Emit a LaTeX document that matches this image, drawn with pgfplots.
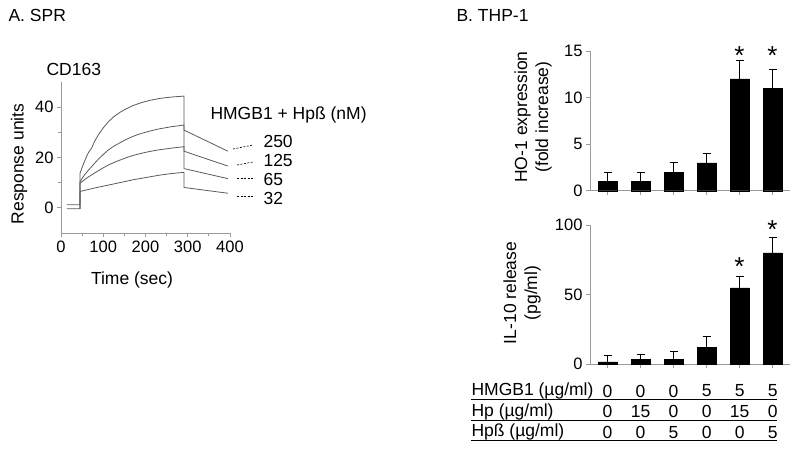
\documentclass[border=0pt]{standalone}
\usepackage{fontspec}
\setmainfont{Liberation Sans}
\usepackage{pgfplots}
\pgfplotsset{compat=1.18}

\definecolor{axgray}{HTML}{9A9A9A}
\definecolor{curve}{HTML}{5A5A5A}

\pgfplotsset{
  panel/.style={
    scale only axis,
    anchor=south west,
    axis lines*=left,
    axis line style={axgray, line width=0.8pt},
    tick style={axgray, line width=0.8pt},
    tick align=outside,
    /pgf/number format/assume math mode=true,
    tick label style={font=\fontsize{16.5}{19}\selectfont},
    clip=false,
  },
  barpanel/.style={
    panel,
    width=200pt,
    xmin=0.47, xmax=6.53,
    ymin=0,
    xtick={1,...,6},
    xticklabels={},
    major tick length=4pt,
    ybar, bar width=18.5pt,
  },
  errs/.style={
    fill=black, draw=black,
    error bars/.cd, y dir=plus, y explicit,
    error mark options={rotate=90, mark size=4pt, black, line width=0.9pt},
    error bar style={black, line width=0.9pt},
  },
}

\begin{document}
\begin{tikzpicture}[font=\fontsize{17.5}{21}\selectfont, x=1pt, y=1pt]
\path[use as bounding box] (0,0) rectangle (800,451);

% ---------- A. SPR ----------
\begin{axis}[panel, at={(61pt,218pt)}, width=169pt, height=151pt,
  xmin=0, xmax=400, ymin=-10, ymax=50,
  xtick={0,100,200,300,400}, ytick={0,20,40},
  minor x tick num=1, minor y tick num=1,
  major tick length=4pt, minor tick length=3pt]
  \addplot[curve, line width=0.8pt] coordinates {
    (14,1.2) (45,1.2) (45,13.7) (50,16.1) (55,18.2) (60,20.2) (65,22) (72.6,23.8)
    (80,26.6) (90,29.4) (100,31.8) (112,34.2) (125,36.2) (140,38) (155,39.4)
    (170,40.6) (190,41.8) (210,42.7) (235,43.5) (260,44) (291,44.4)
    (291,30.9) (395,22.5)};
  \addplot[curve, line width=0.8pt] coordinates {
    (14,-0.4) (45,-0.4) (45,10.4) (50,11.7) (55,12.9) (65,15) (72.6,16.4) (80,17.8)
    (90,19.6) (100,21.2) (112,23) (125,24.5) (140,25.9) (151,26.9) (165,28)
    (180,29) (191,29.6) (210,30.5) (230,31.3) (260,32.2) (291,32.9)
    (291,22.5) (395,16.6)};
  \addplot[curve, line width=0.8pt] coordinates {
    (45,-0.4) (45,9.8) (55,11.1) (65,12.3) (72.6,13.1) (80,13.9) (90,14.9)
    (100,15.9) (112,17) (125,18) (140,19) (151,19.7) (170,20.8) (191,21.7)
    (210,22.4) (230,23) (260,23.7) (291,24.3) (291,15.6) (395,11.6)};
  \addplot[curve, line width=0.8pt] coordinates {
    (45,-0.4) (45,6.5) (60,7.1) (80,7.9) (100,8.6) (125,9.5) (150,10.4)
    (175,11.3) (200,12) (230,12.9) (260,13.6) (291,14.1) (291,8.1) (395,5.8)};
\end{axis}

\node at (19,287) [rotate=90] {Response units};
\node at (132,171) {Time (sec)};
\node[anchor=west] at (5,436) {A. SPR};
\node[anchor=west] at (43,382) {CD163};
\node[anchor=west] at (207,336) {HMGB1 + Hpß (nM)};
\node[anchor=west] at (260,310) {250};
\node[anchor=west] at (260,291) {125};
\node[anchor=west] at (260,272) {65};
\node[anchor=west] at (260,253) {32};
\draw[black, line width=0.6pt, dash pattern=on 2pt off 1.5pt] (233,302) -- (253,306);
\draw[black, line width=0.6pt, dash pattern=on 2pt off 1.5pt] (237,286) -- (253,289);
\draw[black, line width=0.6pt, dash pattern=on 2pt off 1.5pt] (237,273) -- (253,273);
\draw[black, line width=0.6pt, dash pattern=on 2pt off 1.5pt] (237,255) -- (253,255);

% ---------- B. THP-1, HO-1 ----------
\begin{axis}[barpanel, at={(590pt,260.3pt)}, height=139.7pt,
  ymax=15, ytick={0,5,10,15}]
  \addplot[errs] coordinates {
    (1,1) +- (0,1)
    (2,1) +- (0,1)
    (3,2) +- (0,1)
    (4,3) +- (0,1)
    (5,12) +- (0,2)
    (6,11) +- (0,2)};
  \node[font=\fontsize{26}{26}\selectfont] at (axis cs:5,14.5) {*};
  \node[font=\fontsize{26}{26}\selectfont] at (axis cs:6,14.5) {*};
\end{axis}
\node[align=center, rotate=90] at (533,334) {HO-1 expression\\(fold increase)};
\node[anchor=west] at (453,436) {B. THP-1};

% ---------- B. THP-1, IL-10 ----------
\begin{axis}[barpanel, at={(590pt,87pt)}, height=139pt,
  ymax=100, ytick={0,50,100}]
  \addplot[errs] coordinates {
    (1,1.5) +- (0,4.5)
    (2,3.6) +- (0,3.4)
    (3,3.6) +- (0,5.3)
    (4,11.8) +- (0,8.2)
    (5,54.8) +- (0,8.2)
    (6,80) +- (0,11)};
  \node[font=\fontsize{26}{26}\selectfont] at (axis cs:5,70) {*};
  \node[font=\fontsize{26}{26}\selectfont] at (axis cs:6,97) {*};
\end{axis}

% condition table, one column per bar (bar centres 607.5 + 33.04 per step)
\foreach \i/\a/\b/\c in {0/0/0/0, 1/0/15/0, 2/0/0/5, 3/5/0/0, 4/5/15/0, 5/5/0/5} {
  \node at (607.5+33.04*\i,60) {\a};
  \node at (607.5+33.04*\i,39.3) {\b};
  \node at (607.5+33.04*\i,18.7) {\c};
}
\node[align=center, rotate=90] at (522,158) {IL-10 release\\(pg/ml)};
\node[anchor=west] at (468,60) {HMGB1 (µg/ml)};
\node[anchor=west] at (468,39.3) {Hp (µg/ml)};
\node[anchor=west] at (468,18.7) {Hpß (µg/ml)};
\draw[black, line width=0.9pt] (471,52) -- (777,52);
\draw[black, line width=0.9pt] (471,31) -- (777,31);
\draw[black, line width=0.9pt] (471,10.3) -- (777,10.3);
\end{tikzpicture}
\end{document}
